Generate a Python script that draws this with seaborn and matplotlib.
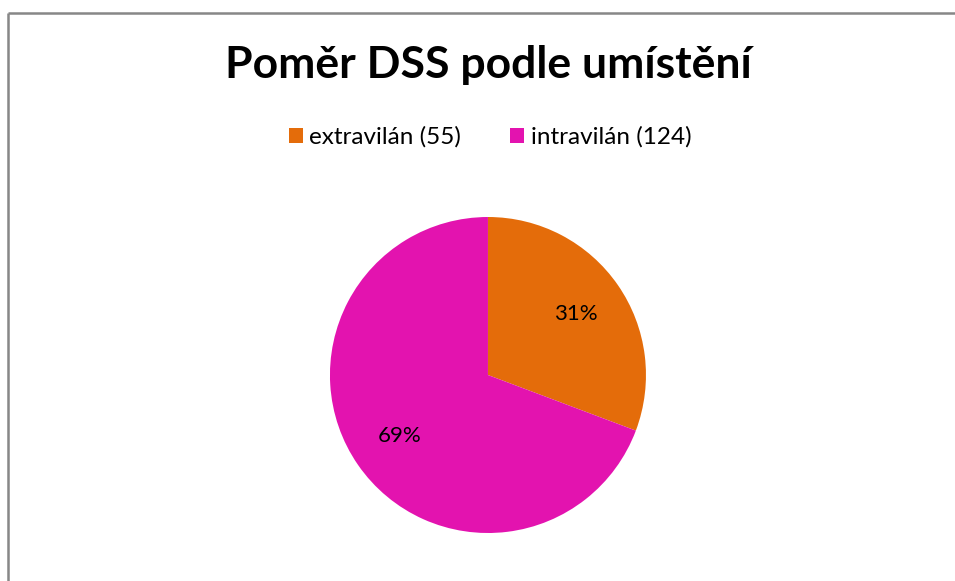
import matplotlib.pyplot as plt
import seaborn as sns
from matplotlib.lines import Line2D
from matplotlib.patches import Patch

# Data
labels = ["extravilán", "intravilán"]
counts = [55, 124]
colors = ["#E46C0A", "#E313AF"]
title = "Poměr DSS podle umístění"

sns.set_theme(style="white")
plt.rcParams['font.family'] = ['Lato', 'DejaVu Sans']
plt.rcParams['text.color'] = 'black'

fig = plt.figure(figsize=(9.55, 5.81), dpi=100)

# chart frame (gray border on left and top)
fig.add_artist(Line2D([8 / 955, 8 / 955], [0, 1 - 13 / 581], color="#878787", lw=1.8,
                      solid_capstyle="butt"))
fig.add_artist(Line2D([8 / 955, 1], [1 - 13 / 581, 1 - 13 / 581], color="#878787", lw=1.8,
                      solid_capstyle="butt"))

ax = fig.add_axes([0.3455, 0.0826, 0.3309, 0.5439])
wedges, texts, autotexts = ax.pie(
    counts,
    colors=colors,
    startangle=90,
    counterclock=False,
    autopct=lambda p: f"{p:.0f}%",
    pctdistance=0.68,
    textprops={"fontsize": 16, "color": "black"},
    wedgeprops={"linewidth": 0},
)
ax.set_xlim(-1, 1)
ax.set_ylim(-1, 1)
ax.set_aspect("equal")

fig.text(0.511, 0.888, title, ha="center", va="center", fontsize=32,
         fontweight="bold", color="black")

handles = [Patch(facecolor=c, edgecolor="none") for c in colors]
legend_labels = [f"{l} ({n})" for l, n in zip(labels, counts)]
fig.legend(
    handles, legend_labels,
    loc="center", bbox_to_anchor=(0.513, 0.764), ncol=2, frameon=False,
    fontsize=17.5, handlelength=0.6, handleheight=0.6, handletextpad=0.25,
    columnspacing=2.0, labelcolor="black",
)

fig.savefig("out.png", dpi=100)
